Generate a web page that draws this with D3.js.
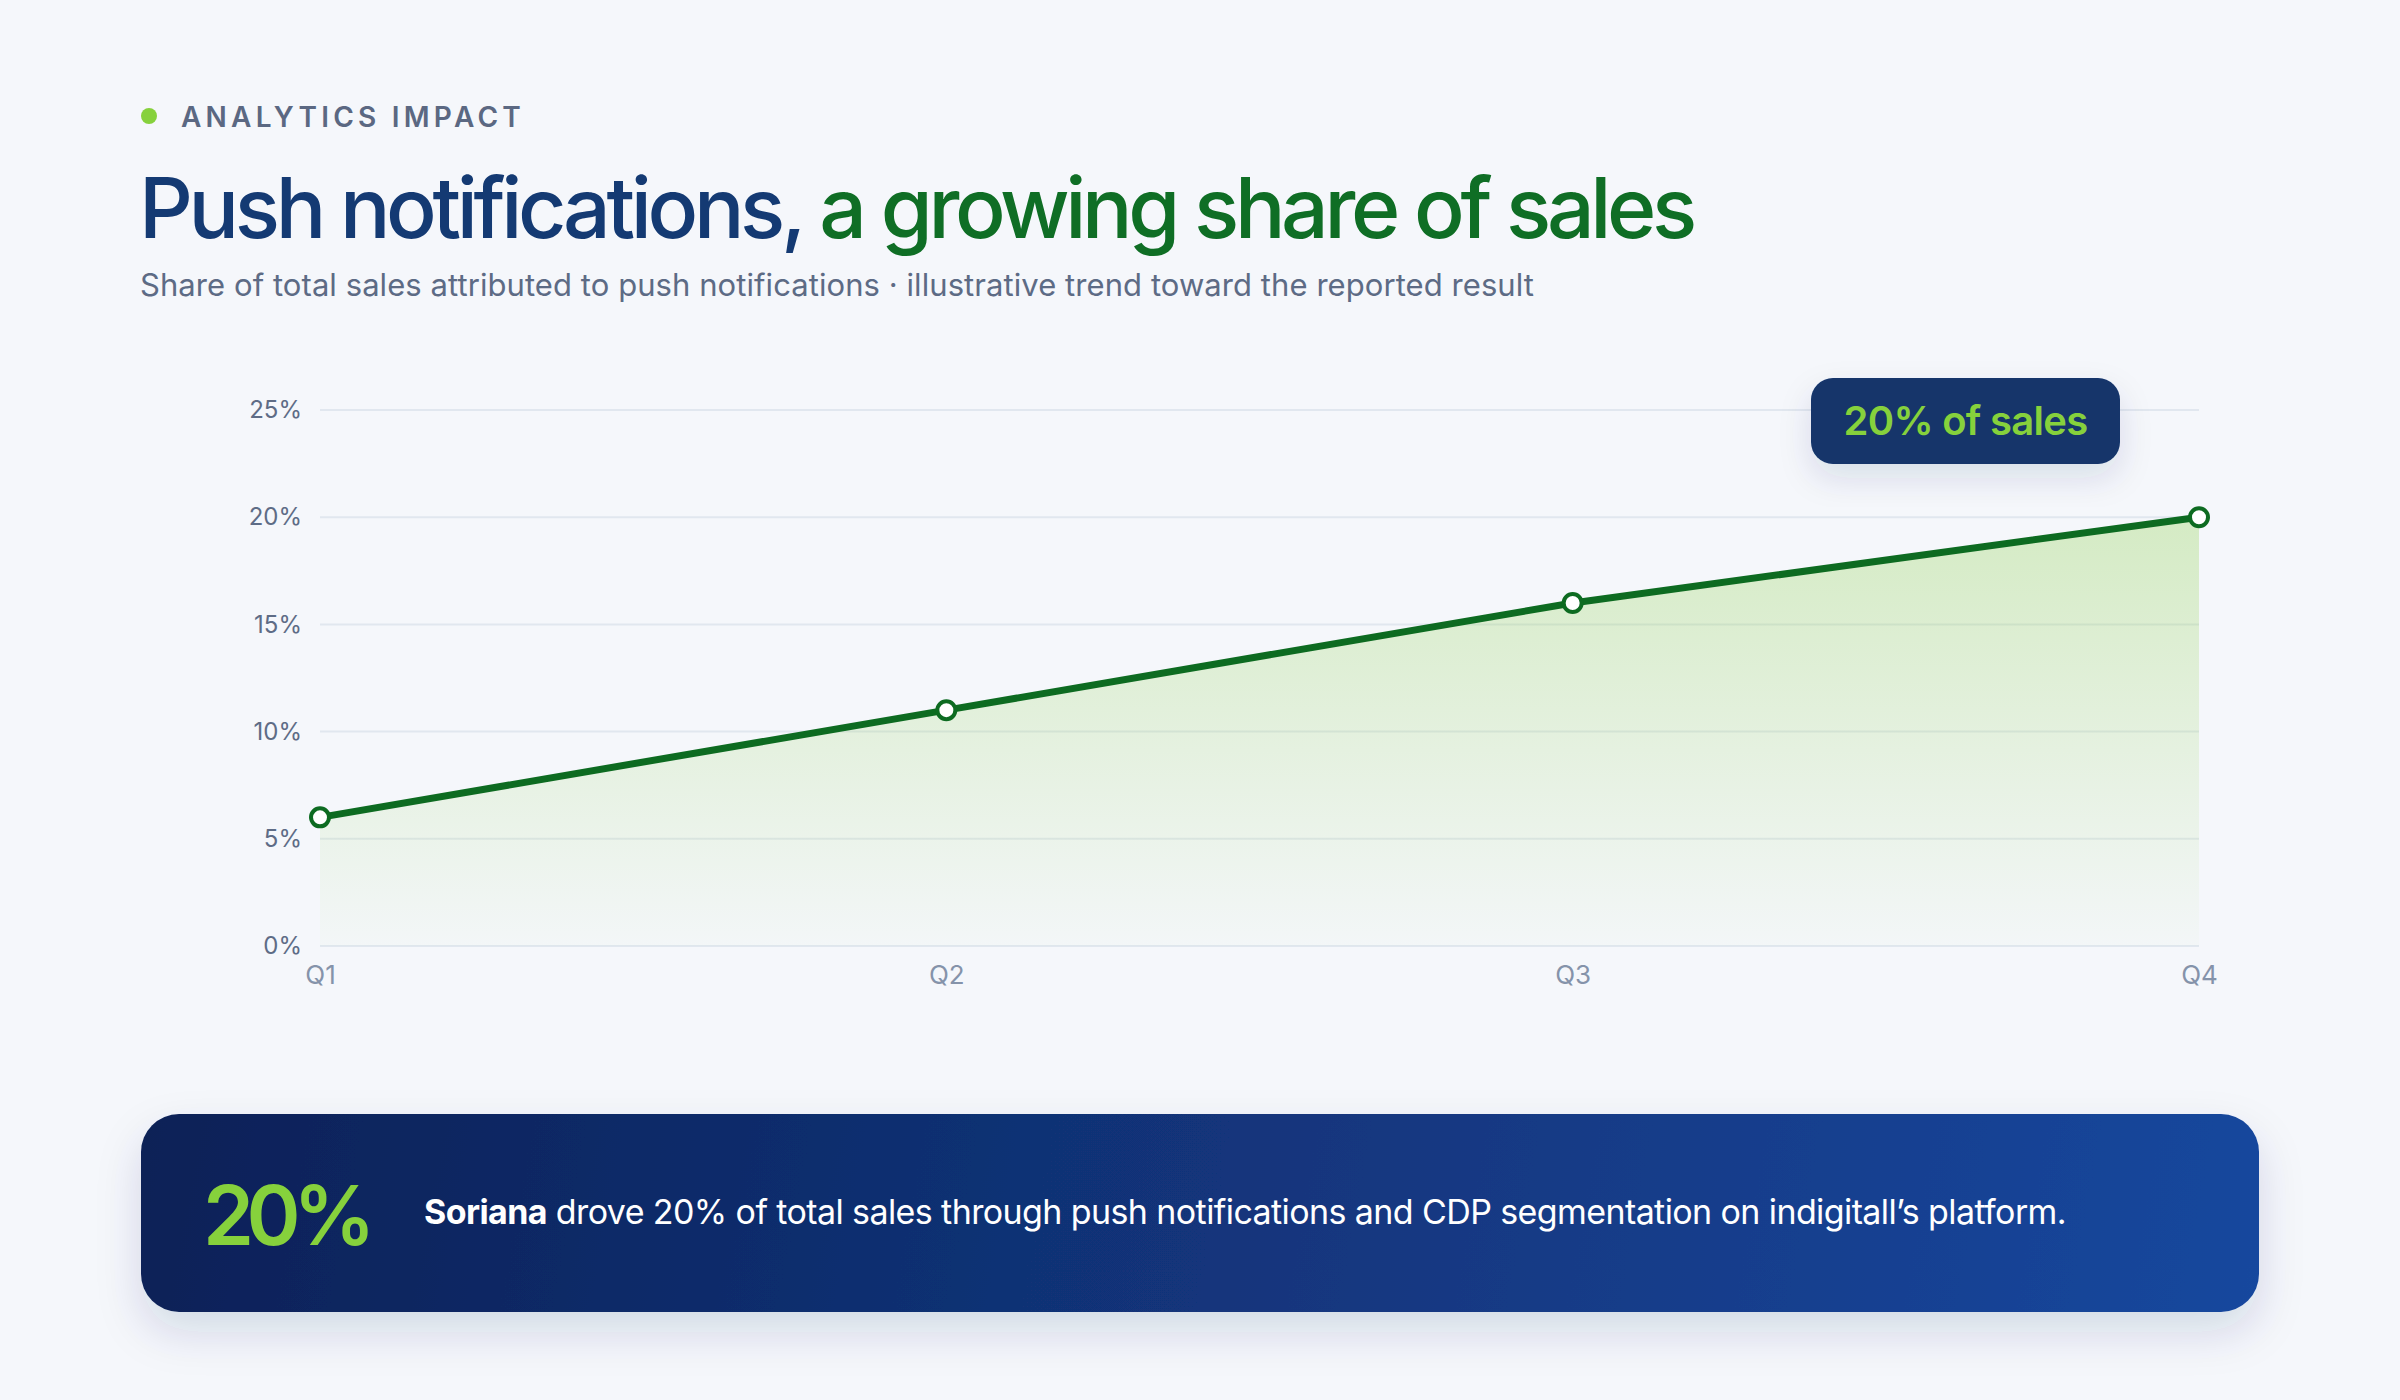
<!DOCTYPE html>
<html>
<head>
<meta charset="utf-8">
<script src="https://cdn.jsdelivr.net/npm/d3@7"></script>
<style>
  html, body { margin: 0; padding: 0; background: #f5f7fb; }
  svg { display: block; }
  text { font-family: Inter, "Noto Sans", sans-serif; }
</style>
</head>
<body>
<svg id="chart" width="2400" height="1400"></svg>
<script>
// ---- data ----
const categories = ["Q1", "Q2", "Q3", "Q4"];
const shareValues = [6, 11, 16, 20];
const yTicks = [0, 5, 10, 15, 20, 25];
const eyebrow = "ANALYTICS IMPACT";
const titleParts = ["Push notifications, ", "a growing share of sales"];
const subtitle = "Share of total sales attributed to push notifications · illustrative trend toward the reported result";
const badgeLabel = "20% of sales";
const bannerStat = "20%";
const bannerBold = "Soriana";
const bannerRest = " drove 20% of total sales through push notifications and CDP segmentation on indigitall\u2019s platform.";

const svg = d3.select("#chart");

const defs = svg.append("defs");
const areaGrad = defs.append("linearGradient").attr("id", "areaGrad")
  .attr("x1", 0).attr("y1", 0).attr("x2", 0).attr("y2", 1);
areaGrad.append("stop").attr("offset", "0%").attr("stop-color", "#8fd14f").attr("stop-opacity", 0.32);
areaGrad.append("stop").attr("offset", "100%").attr("stop-color", "#8fd14f").attr("stop-opacity", 0.02);

const bannerGrad = defs.append("linearGradient").attr("id", "bannerGrad")
  .attr("gradientUnits", "userSpaceOnUse")
  .attr("x1", 141).attr("y1", 1114).attr("x2", 2259).attr("y2", 1500);
bannerGrad.append("stop").attr("offset", "0%").attr("stop-color", "#0c2157");
bannerGrad.append("stop").attr("offset", "100%").attr("stop-color", "#18489f");

const shadow = defs.append("filter").attr("id", "shadow")
  .attr("x", "-20%").attr("y", "-30%").attr("width", "140%").attr("height", "180%");
shadow.append("feDropShadow").attr("dx", 0).attr("dy", 14).attr("stdDeviation", 16)
  .attr("flood-color", "#13336b").attr("flood-opacity", 0.12);
const shadow2 = defs.append("filter").attr("id", "shadow2")
  .attr("x", "-10%").attr("y", "-20%").attr("width", "120%").attr("height", "160%");
shadow2.append("feDropShadow").attr("dx", 0).attr("dy", 20).attr("stdDeviation", 22)
  .attr("flood-color", "#13336b").attr("flood-opacity", 0.14);

function fit(sel, target) {
  const node = sel.node();
  const n = node.getNumberOfChars();
  const w = node.getComputedTextLength();
  const cur = parseFloat(sel.attr("letter-spacing") || 0);
  sel.attr("letter-spacing", cur + (target - w) / n);
}

// ---- header ----
svg.append("circle").attr("cx", 149).attr("cy", 116).attr("r", 8).attr("fill", "#86d13c");
const eb = svg.append("text").attr("x", 181).attr("y", 127)
  .attr("font-size", 28).attr("font-weight", 600).attr("fill", "#5b6882")
  .text(eyebrow);
fit(eb, 344);

const title = svg.append("text").attr("x", 139).attr("y", 238)
  .attr("font-size", 84).attr("font-weight", 500);
title.append("tspan").attr("fill", "#143a73").text(titleParts[0]);
title.append("tspan").attr("fill", "#0f6e25").text(titleParts[1]);
fit(title, 1554);

const sub = svg.append("text").attr("x", 140).attr("y", 296)
  .attr("font-size", 31).attr("font-weight", 400).attr("fill", "#5d6b85")
  .text(subtitle);
fit(sub, 1394);

// ---- chart ----
const x = d3.scalePoint().domain(categories).range([320, 2199]);
const y = d3.scaleLinear().domain([0, 25]).range([946, 410]);

const grid = svg.append("g");
grid.selectAll("line").data(yTicks).join("line")
  .attr("x1", x.range()[0]).attr("x2", x.range()[1])
  .attr("y1", d => y(d)).attr("y2", d => y(d))
  .attr("stroke", "#e1e7ef").attr("stroke-width", 2);

const yAxis = svg.append("g").attr("transform", `translate(${x.range()[0]},0)`)
  .call(d3.axisLeft(y).tickValues(yTicks).tickFormat(d => d + "%").tickSize(0).tickPadding(18));
yAxis.select(".domain").remove();
yAxis.selectAll("text").attr("font-size", 24).attr("fill", "#5e6c86")
  .attr("font-family", "Inter, sans-serif").attr("dy", "0.32em");

const xAxis = svg.append("g").attr("transform", `translate(0,${y(0)})`)
  .call(d3.axisBottom(x).tickSize(0).tickPadding(20));
xAxis.select(".domain").remove();
xAxis.selectAll("text").attr("font-size", 26).attr("fill", "#8593aa")
  .attr("font-family", "Inter, sans-serif");

const pts = categories.map((c, i) => ({ c, v: shareValues[i] }));
const area = d3.area().x(d => x(d.c)).y0(y(0)).y1(d => y(d.v));
const line = d3.line().x(d => x(d.c)).y(d => y(d.v));

svg.append("path").datum(pts).attr("d", area).attr("fill", "url(#areaGrad)");
svg.append("path").datum(pts).attr("d", line).attr("fill", "none")
  .attr("stroke", "#0d6b21").attr("stroke-width", 7).attr("stroke-linejoin", "round");
svg.append("g").selectAll("circle").data(pts).join("circle")
  .attr("cx", d => x(d.c)).attr("cy", d => y(d.v)).attr("r", 9)
  .attr("fill", "#ffffff").attr("stroke", "#0d6b21").attr("stroke-width", 4);

// badge
const bx = 1811, by = 378, bw = 309, bh = 86;
svg.append("rect").attr("x", bx).attr("y", by).attr("width", bw).attr("height", bh)
  .attr("rx", 22).attr("fill", "#13346b").attr("filter", "url(#shadow)");
const bt = svg.append("text").attr("x", bx + bw / 2).attr("y", by + bh / 2).attr("dy", "0.35em")
  .attr("text-anchor", "middle").attr("font-size", 40).attr("font-weight", 600)
  .attr("fill", "#86d13c").text(badgeLabel);
fit(bt, 244);

// ---- banner ----
svg.append("rect").attr("x", 141).attr("y", 1114).attr("width", 2118).attr("height", 198)
  .attr("rx", 38).attr("fill", "url(#bannerGrad)").attr("filter", "url(#shadow2)");
const stat = svg.append("text").attr("x", 203).attr("y", 1245)
  .attr("font-size", 82).attr("font-weight", 600).attr("fill", "#86d13c").text(bannerStat);
fit(stat, 165);
const bs = svg.append("text").attr("x", 424).attr("y", 1224)
  .attr("font-size", 34).attr("fill", "#ffffff");
bs.append("tspan").attr("font-weight", 700).text(bannerBold);
bs.append("tspan").attr("font-weight", 400).text(bannerRest);
fit(bs, 1642);
</script>
</body>
</html>
